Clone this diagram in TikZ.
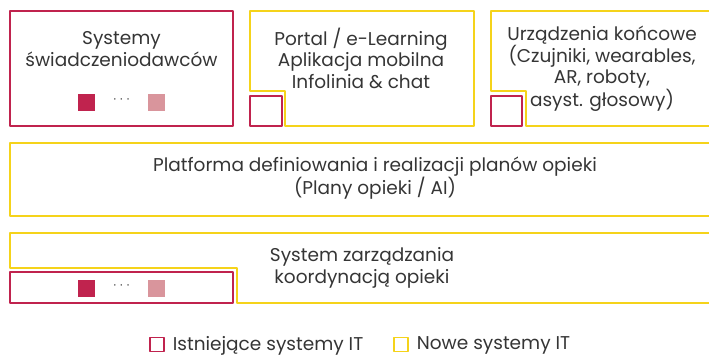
\documentclass[tikz,border=0pt]{standalone}
\usepackage{fontspec}
\setmainfont{Poppins}
\definecolor{crimson}{HTML}{C0234E}
\definecolor{rose}{HTML}{D9959C}
\definecolor{sun}{HTML}{F5D31A}
\definecolor{ink}{HTML}{353535}
\begin{document}
\begin{tikzpicture}[x=1pt,y=-1pt,line join=round,
  font=\fontsize{18.5}{21.5}\selectfont,
  oldsys/.style={draw=crimson,line width=1.3pt},
  newsys/.style={draw=sun,line width=1.3pt},
  txt/.style={text=ink,align=center,inner sep=0pt},
  dots/.style={text=ink,inner sep=0pt,font=\fontsize{12}{12}\selectfont},
  legkey/.style={line width=1.3pt,minimum size=14pt,inner sep=0pt}]
\def \yt{11};
\def \yb{126};
\def \xr{740};
\useasboundingbox (0,0) rectangle (709,356);
\clip (0,0) rectangle (709,356);
% top row
\draw[oldsys] (10,\yt) rectangle (233,\yb);
\node[txt] (prov) at (121.5,49) {Systemy\\świadczeniodawców};
\fill[crimson] (78,94) rectangle (95,111);
\fill[rose] (148,94) rectangle (165,111);
\node[dots] (provdots) at (121.5,101) {·\,\,·\,\,·};
\draw[newsys] (250,\yt) -- (474,\yt) -- (474,\yb) -- (285,\yb) -- (285,91) -- (250,91) -- cycle;
\draw[oldsys] (250,96) rectangle (282,\yb);
\node[txt] (portal) at (361,58) {Portal / e-Learning\\Aplikacja mobilna\\Infolinia \& chat};
\draw[newsys] (491,\yt) -- (712,\yt) -- (712,\yb) -- (526,\yb) -- (526,91) -- (491,91) -- cycle;
\draw[oldsys] (491,96) rectangle (522,\yb);
\node[txt] (devices) at (602,69) {Urządzenia końcowe\\(Czujniki, wearables,\\AR, roboty,\\asyst. głosowy)};
% platform
\draw[newsys] (10,143) rectangle (\xr,216);
\node[txt] (platform) at (375,178) {Platforma definiowania i realizacji planów opieki\\(Plany opieki / AI)};
% coordination
\draw[newsys] (10,233) -- (\xr,233) -- (\xr,303) -- (237,303) -- (237,268) -- (10,268) -- cycle;
\draw[oldsys] (10,272) rectangle (233,303);
\fill[crimson] (78,280) rectangle (95,297);
\fill[rose] (148,280) rectangle (165,297);
\node[dots] (coorddots) at (121.5,287) {·\,\,·\,\,·};
\node[txt] (coord) at (362,268) {System zarządzania\\koordynacją opieki};
% legend
\node[legkey,draw=crimson] (keyold) at (157,344.5) {};
\node[txt,anchor=west] (labold) at ([xshift=8pt,yshift=-1pt]keyold.east) {Istniejące systemy IT};
\node[legkey,draw=sun] (keynew) at (401,344.5) {};
\node[txt,anchor=west] (labnew) at ([xshift=8pt,yshift=-1pt]keynew.east) {Nowe systemy IT};
\end{tikzpicture}
\end{document}
